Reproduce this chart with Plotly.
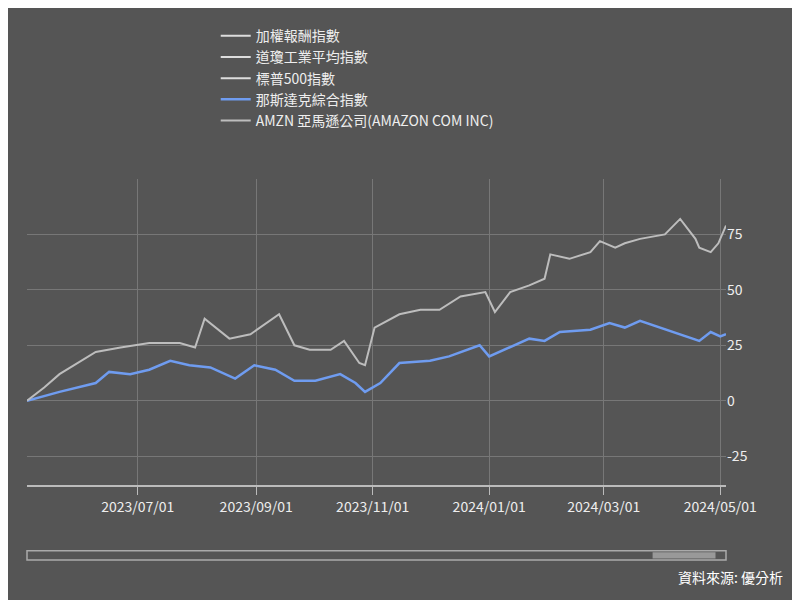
import plotly.graph_objects as go

amzn_dates = ["2023-05-04","2023-05-13","2023-05-21","2023-06-01","2023-06-09","2023-06-22","2023-07-07","2023-07-23","2023-07-31","2023-08-05","2023-08-18","2023-08-29","2023-09-06","2023-09-13","2023-09-21","2023-09-29","2023-10-10","2023-10-17","2023-10-25","2023-10-28","2023-11-02","2023-11-15","2023-11-26","2023-12-06","2023-12-17","2023-12-30","2024-01-04","2024-01-12","2024-01-22","2024-01-30","2024-02-02","2024-02-12","2024-02-23","2024-02-28","2024-03-07","2024-03-12","2024-03-20","2024-04-02","2024-04-10","2024-04-18","2024-04-20","2024-04-26","2024-04-30","2024-05-04"]
amzn_vals = [0,6,12,18,22,24,26,26,24,37,28,30,35,39,25,23,23,27,17,16,33,39,41,41,47,49,40,49,52,55,66,64,67,72,69,71,73,75,82,73,69,67,71,79]

ndx_dates = ["2023-05-04","2023-05-21","2023-06-09","2023-06-16","2023-06-27","2023-07-07","2023-07-18","2023-07-28","2023-08-08","2023-08-21","2023-08-31","2023-09-11","2023-09-21","2023-10-02","2023-10-15","2023-10-23","2023-10-28","2023-11-05","2023-11-15","2023-12-01","2023-12-11","2023-12-27","2024-01-01","2024-01-12","2024-01-22","2024-01-30","2024-02-07","2024-02-23","2024-03-04","2024-03-12","2024-03-20","2024-04-20","2024-04-26","2024-05-01","2024-05-04"]
ndx_vals = [0,4,8,13,12,14,18,16,15,10,16,14,9,9,12,8,4,8,17,18,20,25,20,24,28,27,31,32,35,33,36,27,31,29,30]

legend_names = ["加權報酬指數","道瓊工業平均指數","標普500指數","那斯達克綜合指數","AMZN 亞馬遜公司(AMAZON COM INC)"]

fig = go.Figure()
for n in legend_names[:3]:
    fig.add_trace(go.Scatter(x=[ndx_dates[0]], y=[None], mode="lines", name=n, line=dict(color="#dddddd", width=2)))
fig.add_trace(go.Scatter(x=ndx_dates, y=ndx_vals, mode="lines", name=legend_names[3], line=dict(color="#6f9cf0", width=2.5)))
fig.add_trace(go.Scatter(x=amzn_dates, y=amzn_vals, mode="lines", name=legend_names[4], line=dict(color="#bdbdbd", width=2)))

fig.update_layout(
    width=800, height=600, paper_bgcolor="#555555", plot_bgcolor="#555555",
    margin=dict(l=19, r=82, t=135, b=123),
    font=dict(family="Noto Sans CJK TC", color="#eeeeee", size=14),
    showlegend=True,
    legend=dict(x=0.27, y=1.14, xanchor="left", yanchor="bottom",
                bgcolor="rgba(0,0,0,0)", font=dict(size=14), tracegroupgap=0),
    xaxis=dict(type="date", range=["2023-05-04","2024-05-04"],
               tickvals=["2023-07-01","2023-09-01","2023-11-01","2024-01-01","2024-03-01","2024-05-01"],
               ticktext=["2023/07/01","2023/09/01","2023/11/01","2024/01/01","2024/03/01","2024/05/01"],
               showgrid=True, gridcolor="#777777", showline=True, linecolor="#bbbbbb", linewidth=2,
               ticks="outside", tickcolor="#bbbbbb", ticklen=8, tickfont=dict(size=14, color="#eeeeee"), zeroline=False),
    yaxis=dict(side="right", range=[-38, 100], tickvals=[-25,0,25,50,75,100], ticktext=["-25","0","25","50","75",""],
               gridcolor="#777777", tickfont=dict(size=14, color="#eeeeee"), zeroline=False, showline=False),
)
fig.add_shape(type="rect", xref="paper", yref="paper", x0=0, x1=1, y0=-0.245, y1=-0.215, line=dict(color="#aaaaaa", width=1.5), fillcolor="rgba(0,0,0,0)")
fig.add_shape(type="rect", xref="paper", yref="paper", x0=0.895, x1=0.985, y0=-0.24, y1=-0.22, line=dict(color="#999999", width=0), fillcolor="#999999")
fig.add_annotation(text="資料來源: 優分析", xref="paper", yref="paper", x=1.085, y=-0.26, xanchor="right", yanchor="top", showarrow=False, font=dict(size=14, color="#ffffff"))
fig.write_html("out.html")
